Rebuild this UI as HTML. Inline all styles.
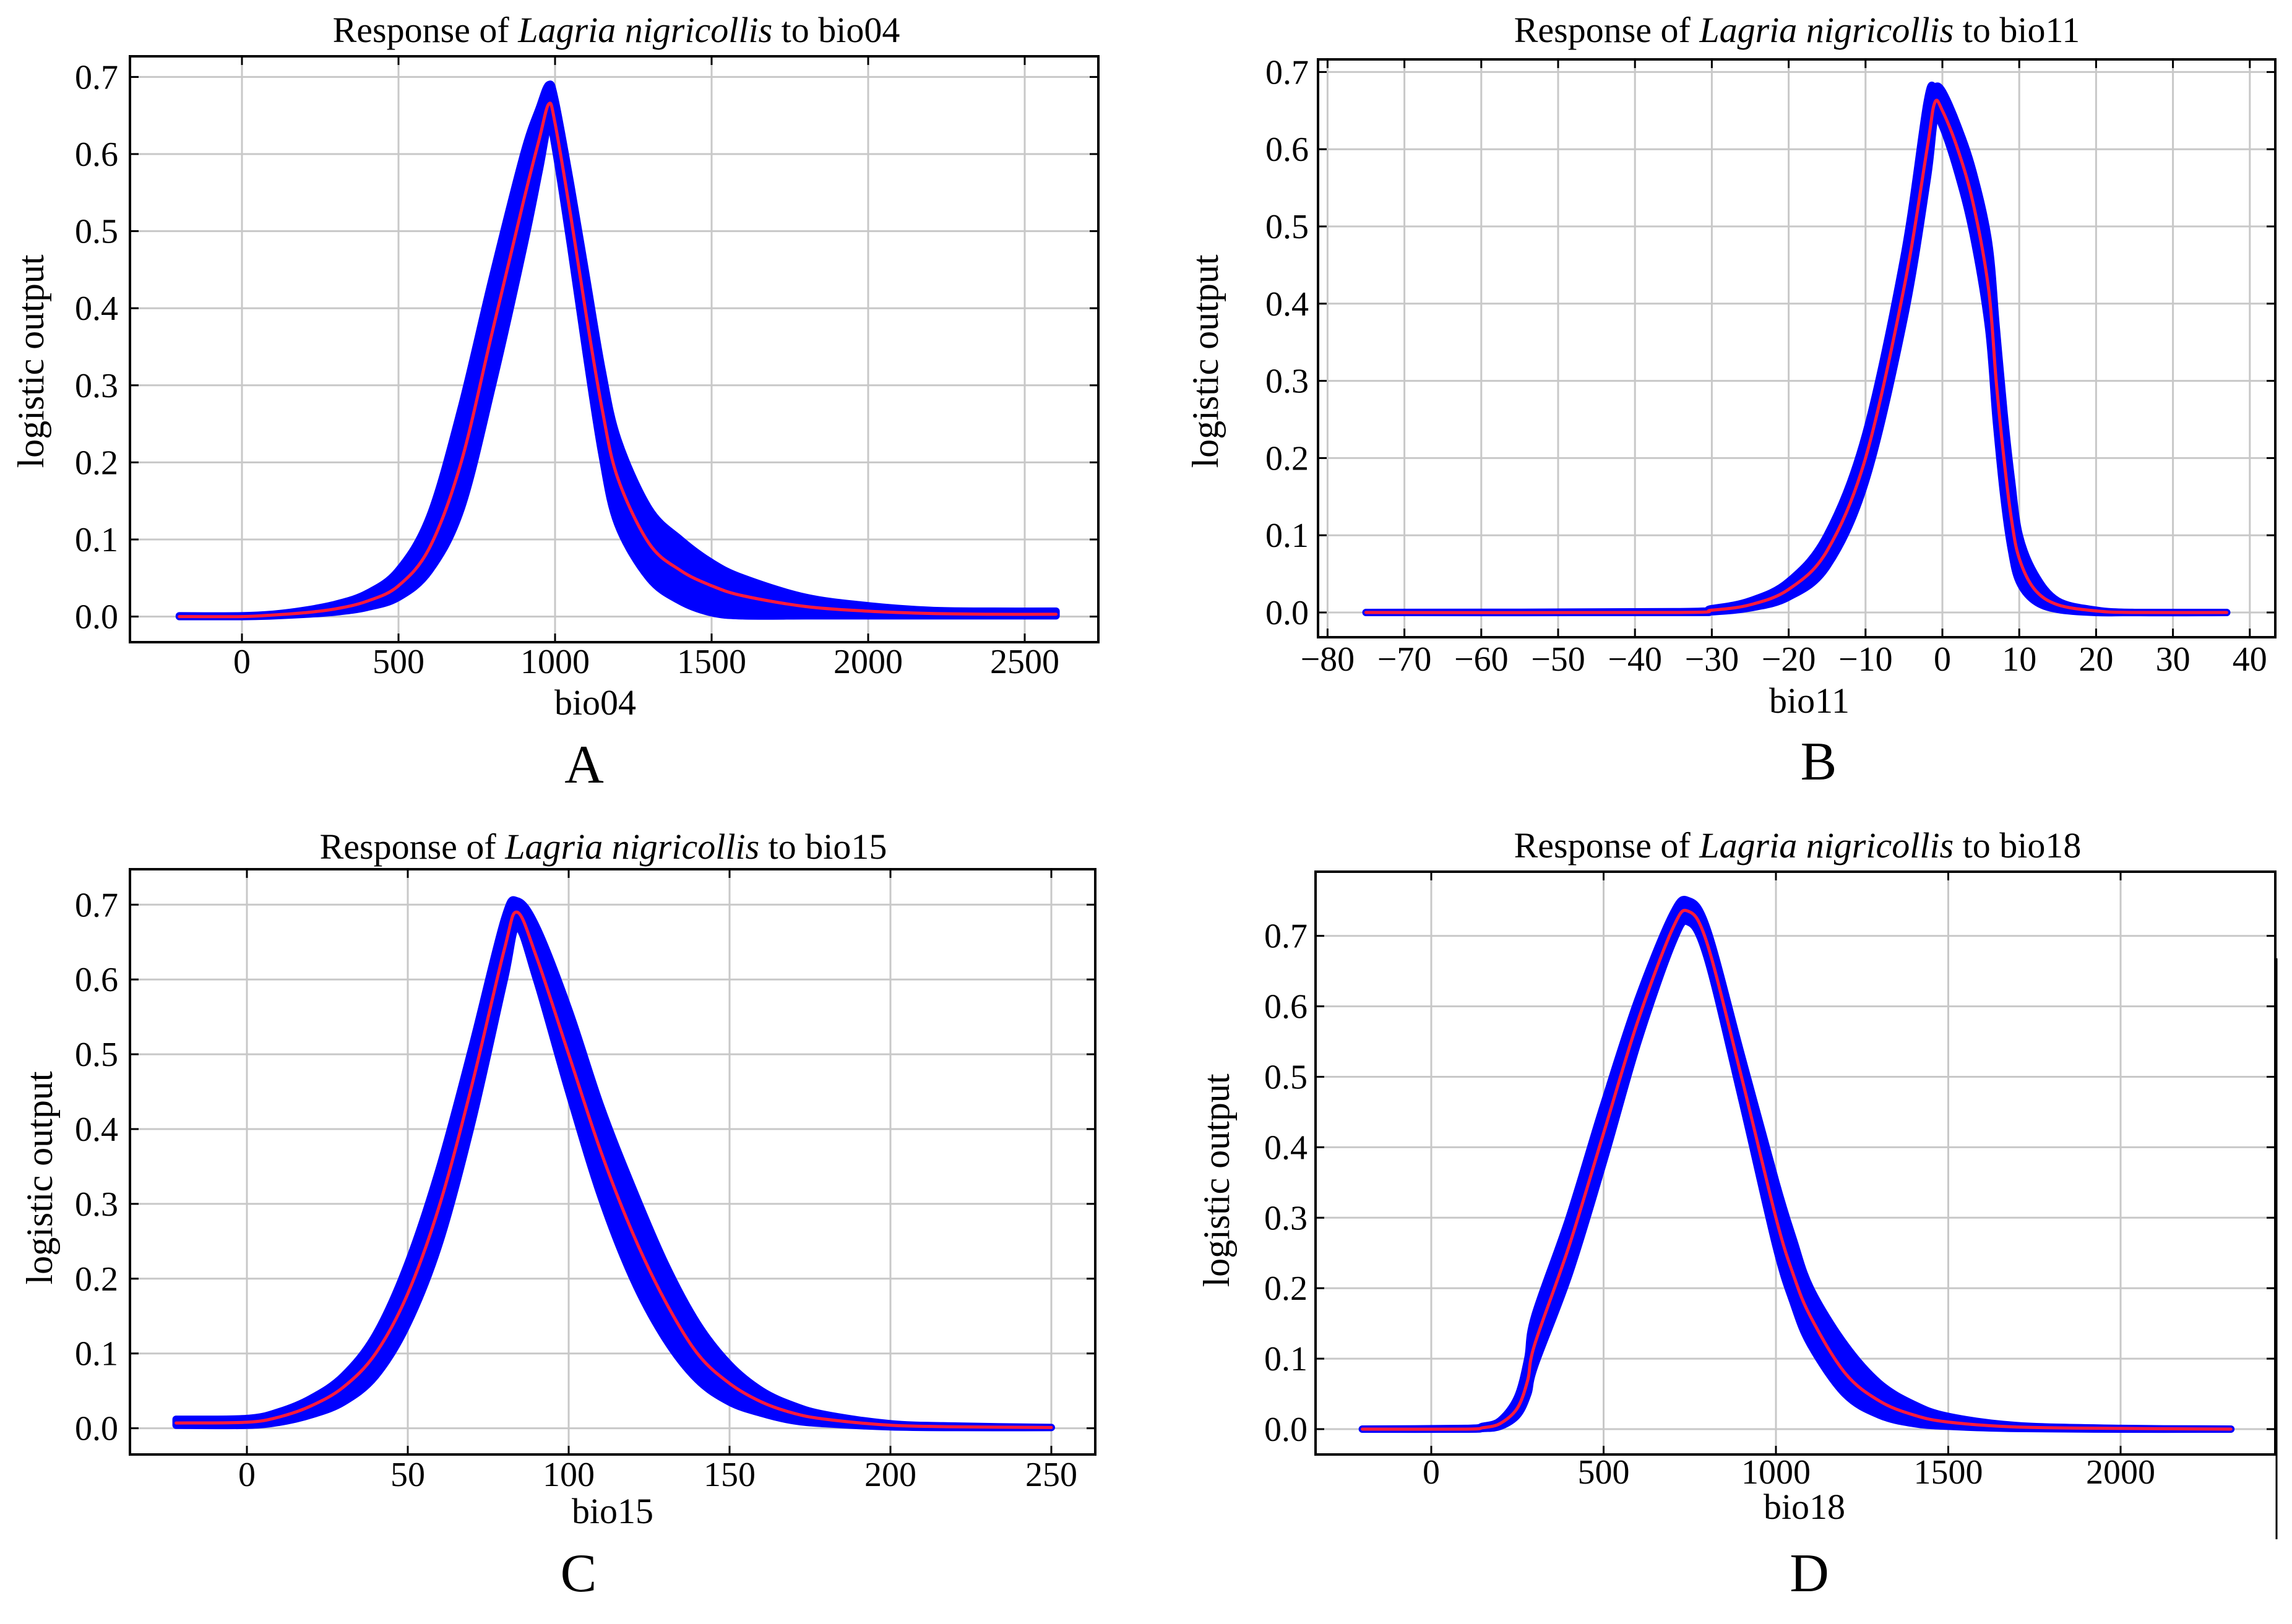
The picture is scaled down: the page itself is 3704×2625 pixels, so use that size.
<!DOCTYPE html>
<html><head><meta charset="utf-8"><style>
html,body{margin:0;padding:0;background:#fff;}
svg{display:block;}
text{font-family:"Liberation Serif",serif;fill:#000;}
</style></head><body>
<svg id="fig" width="3704" height="2625" viewBox="0 0 3704 2625" xmlns="http://www.w3.org/2000/svg"></svg>
<script>
// ---- Panel A: bio04 ----
const aX =     [-200,0,100,200,300,400,500,600,700,800,900,950,980,1000,1050,1100,1150,1200,1300,1400,1500,1600,1800,2000,2200,2400,2600];
const aMean =  [0,0,0.002,0.005,0.01,0.02,0.04,0.09,0.2,0.37,0.54,0.62,0.665,0.64,0.52,0.39,0.27,0.18,0.095,0.06,0.04,0.027,0.013,0.007,0.004,0.003,0.003];
const aUpper = [0.001,0.001,0.003,0.008,0.016,0.03,0.06,0.13,0.27,0.44,0.6,0.66,0.69,0.67,0.56,0.44,0.32,0.23,0.14,0.1,0.07,0.05,0.025,0.014,0.008,0.007,0.007];
const aLower = [0,0,0.001,0.003,0.006,0.012,0.025,0.06,0.14,0.3,0.48,0.58,0.64,0.61,0.48,0.34,0.21,0.12,0.05,0.02,0.005,0.001,0.001,0.001,0.001,0.001,0.001];
const aXTicks = [0,500,1000,1500,2000,2500];
// ---- Panel B: bio11 ----
const bX =     [-75,-35,-30,-25,-20,-15,-10,-5,-2,-1,0,2,4,6,7,8,9,10,12,15,20,25,37];
const bMean =  [0,0,0.003,0.01,0.03,0.08,0.2,0.42,0.6,0.66,0.65,0.6,0.53,0.42,0.3,0.2,0.12,0.07,0.03,0.01,0.002,0,0];
const bUpper = [0,0.001,0.005,0.015,0.04,0.1,0.23,0.46,0.66,0.68,0.675,0.63,0.57,0.48,0.37,0.26,0.17,0.1,0.05,0.015,0.003,0,0];
const bLower = [0,0,0.001,0.006,0.02,0.06,0.17,0.38,0.56,0.64,0.63,0.57,0.49,0.37,0.25,0.15,0.08,0.04,0.015,0.004,0,0,0];
const bXTicks = [-80,-70,-60,-50,-40,-30,-20,-10,0,10,20,30,40];
// ---- Panel C: bio15 ----
const cX =     [-22,0,10,20,30,40,50,60,70,80,84,90,100,110,120,130,140,150,160,170,180,200,220,250];
const cMean =  [0.007,0.008,0.015,0.03,0.055,0.1,0.18,0.3,0.46,0.64,0.69,0.63,0.5,0.37,0.26,0.17,0.1,0.06,0.035,0.02,0.012,0.004,0.002,0.001];
const cUpper = [0.012,0.013,0.022,0.04,0.07,0.125,0.22,0.35,0.51,0.68,0.705,0.67,0.56,0.43,0.32,0.22,0.14,0.085,0.05,0.03,0.018,0.006,0.003,0.001];
const cLower = [0.004,0.004,0.008,0.018,0.035,0.07,0.14,0.25,0.41,0.6,0.67,0.6,0.45,0.31,0.2,0.12,0.065,0.035,0.02,0.01,0.006,0.002,0.001,0.001];
const cXTicks = [0,50,100,150,200,250];
// ---- Panel D: bio18 ----
const dX =     [-200,100,150,200,250,280,300,400,500,600,700,745,800,900,1000,1050,1100,1200,1300,1400,1500,1700,2000,2320];
const dMean =  [0,0,0.002,0.008,0.03,0.07,0.12,0.26,0.42,0.58,0.71,0.735,0.69,0.5,0.3,0.22,0.16,0.08,0.04,0.02,0.01,0.003,0.001,0];
const dUpper = [0,0.001,0.004,0.012,0.045,0.1,0.16,0.3,0.46,0.61,0.73,0.75,0.71,0.53,0.35,0.27,0.2,0.12,0.065,0.035,0.018,0.005,0.001,0];
const dLower = [0,0,0.001,0.004,0.02,0.05,0.09,0.22,0.38,0.55,0.69,0.72,0.67,0.47,0.26,0.18,0.12,0.05,0.02,0.008,0.004,0.001,0,0];
const dXTicks = [0,500,1000,1500,2000];
const yTicks = [0,0.1,0.2,0.3,0.4,0.5,0.6,0.7];

const NS = "http://www.w3.org/2000/svg";
const svg = document.getElementById('fig');
function mk(tag, attrs, parent){
  const e = document.createElementNS(NS, tag);
  for (const k in attrs) e.setAttribute(k, attrs[k]);
  (parent||svg).appendChild(e);
  return e;
}
function smooth(pts){
  let d = 'M' + pts[0][0].toFixed(1) + ',' + pts[0][1].toFixed(1);
  for (let i=0;i<pts.length-1;i++){
    const p0 = pts[Math.max(0,i-1)], p1 = pts[i], p2 = pts[i+1], p3 = pts[Math.min(pts.length-1,i+2)];
    const c1x = p1[0]+(p2[0]-p0[0])/6, c1y = p1[1]+(p2[1]-p0[1])/6;
    const c2x = p2[0]-(p3[0]-p1[0])/6, c2y = p2[1]-(p3[1]-p1[1])/6;
    d += ' C'+c1x.toFixed(1)+','+c1y.toFixed(1)+' '+c2x.toFixed(1)+','+c2y.toFixed(1)+' '+p2[0].toFixed(1)+','+p2[1].toFixed(1);
  }
  return d;
}

const panels = [
 {id:'a', letter:'A', varName:'bio04', xs:aX, mean:aMean, up:aUpper, lo:aLower, xt:aXTicks,
  box:[210,91,1775,1038], x0v:0, x0p:391, xUnit:253/500, y0p:996.6, yUnit:124.6/0.1,
  title:[996,68], tickR:191, xtb:1088, xl:[962,1155], lt:[944,1265], yl:[52,584]},
 {id:'b', letter:'B', varName:'bio11', xs:bX, mean:bMean, up:bUpper, lo:bLower, xt:bXTicks,
  box:[2130,96,3677,1030], x0v:0, x0p:3139, xUnit:124.2/10, y0p:990, yUnit:124.8/0.1,
  title:[2904,68], tickR:2115, xtb:1084, xl:[2924,1152], lt:[2939,1260], yl:[1950,584]},
 {id:'c', letter:'C', varName:'bio15', xs:cX, mean:cMean, up:cUpper, lo:cLower, xt:cXTicks,
  box:[210,1405,1770,2351], x0v:0, x0p:399, xUnit:260/50, y0p:2308.6, yUnit:120.9/0.1,
  title:[975,1388], tickR:191, xtb:2402, xl:[990,2462], lt:[935,2572], yl:[66,1904]},
 {id:'d', letter:'D', varName:'bio18', xs:dX, mean:dMean, up:dUpper, lo:dLower, xt:dXTicks,
  box:[2126,1409,3677,2351], x0v:0, x0p:2313, xUnit:278.5/500, y0p:2310, yUnit:113.9/0.1,
  title:[2905,1386], tickR:2113, xtb:2398, xl:[2916,2455], lt:[2924,2572], yl:[1968,1908]}
];

panels.forEach(p=>{
  const g = mk('g', {});
  
  
  const X = v => p.x0p + (v - p.x0v)*p.xUnit;
  const Y = v => p.y0p - v*p.yUnit;
  const [L,T,R,B] = p.box;
  p.xt.forEach(v=>{
    const gl = mk('line', {x1:X(v), x2:X(v), y1:T, y2:B, stroke:'#c8c8c8', 'stroke-width':3}, g);
    
    
    mk('line', {x1:X(v), x2:X(v), y1:T, y2:T+14, stroke:'#000', 'stroke-width':3}, g);
    mk('line', {x1:X(v), x2:X(v), y1:B-14, y2:B, stroke:'#000', 'stroke-width':3}, g);
    const t = mk('text', {x:X(v), y:p.xtb, 'font-size':56, 'text-anchor':'middle'}, g);
    t.textContent = v < 0 ? '\u2212' + Math.abs(v) : String(v);
    
    
  });
  yTicks.forEach(v=>{
    const gl = mk('line', {x1:L, x2:R, y1:Y(v), y2:Y(v), stroke:'#c8c8c8', 'stroke-width':3}, g);
    
    
    mk('line', {x1:L, x2:L+14, y1:Y(v), y2:Y(v), stroke:'#000', 'stroke-width':3}, g);
    mk('line', {x1:R-14, x2:R, y1:Y(v), y2:Y(v), stroke:'#000', 'stroke-width':3}, g);
    const t = mk('text', {x:p.tickR, y:Y(v)+19, 'font-size':56, 'text-anchor':'end'}, g);
    t.textContent = v.toFixed(1);
    
    
  });
  const upPts = p.xs.map((x,i)=>[X(x), Y(p.up[i])]);
  const loPts = p.xs.map((x,i)=>[X(x), Y(p.lo[i])]).reverse();
  const dUp = smooth(upPts), dLo = smooth(loPts);
  const band = mk('path', {d: dUp + ' L' + dLo.slice(1) + ' Z', fill:'#0000ff', stroke:'#0000ff', 'stroke-width':12, 'stroke-linejoin':'round'}, g);
  
  
  const meanPts = p.xs.map((x,i)=>[X(x), Y(p.mean[i])]);
  const ml = mk('path', {d: smooth(meanPts), fill:'none', stroke:'#ff1a3c', 'stroke-width':5, 'stroke-linejoin':'round', 'stroke-linecap':'round'}, g);
  
  
  const bx = mk('rect', {x:L, y:T, width:R-L, height:B-T, fill:'none', stroke:'#000', 'stroke-width':4}, g);
  
  
  const tt = mk('text', {x:p.title[0], y:p.title[1], 'font-size':58, 'text-anchor':'middle'}, g);
  
  
  const s1 = mk('tspan', {}, tt); s1.textContent = 'Response of ';
  const s2 = mk('tspan', {'font-style':'italic'}, tt); s2.textContent = 'Lagria nigricollis';
  const s3 = mk('tspan', {}, tt); s3.textContent = ' to ' + p.varName;
  const xl = mk('text', {x:p.xl[0], y:p.xl[1], 'font-size':58, 'text-anchor':'middle'}, g);
  xl.textContent = p.varName;
  
  
  const yl = mk('text', {x:0, y:0, 'font-size':60, 'text-anchor':'middle', transform:'translate('+(p.yl[0]+18)+','+p.yl[1]+') rotate(-90)'}, g);
  yl.textContent = 'logistic output';
  
  
  const lt = mk('text', {x:p.lt[0], y:p.lt[1], 'font-size':88, 'text-anchor':'middle'}, g);
  lt.textContent = p.letter;
  
  
});
const ext = mk('line', {x1:3679, x2:3679, y1:1549, y2:2488, stroke:'#000', 'stroke-width':3});


</script>
</body></html>
